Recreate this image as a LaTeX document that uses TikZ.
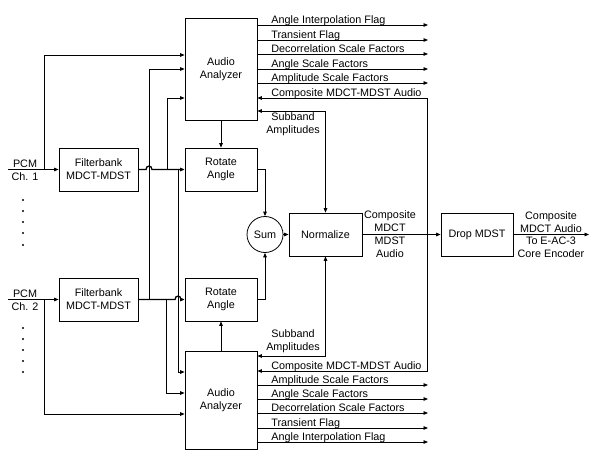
\documentclass[tikz,border=0pt]{standalone}
\usepackage{fontspec}
\setmainfont{Liberation Sans}
\usetikzlibrary{arrows.meta,calc}
\begin{document}
\begin{tikzpicture}[x=1pt,y=-1pt, line width=0.8pt,
  txt/.style={font=\fontsize{10.8}{13}\selectfont},
  box/.style={draw, rectangle, inner sep=0pt, align=center, txt},
  arr/.style={-{Triangle[length=4.5pt,width=3.6pt]}},
  barr/.style={{Triangle[length=4.5pt,width=3.6pt]}-{Triangle[length=4.5pt,width=3.6pt]}},
  lab/.style={anchor=base west, inner sep=0pt, txt},
  clab/.style={inner sep=0pt, align=center, txt},
  thick/.style={line width=1.3pt},
  dot/.style={circle, fill, inner sep=0pt, minimum size=2.4pt}]
\useasboundingbox (0,0) rectangle (599,457);

% boxes
\node[box, minimum width=72pt, minimum height=102pt] (A1) at (221,69) {Audio\\Analyzer};
\node[box, minimum width=79pt, minimum height=43pt] (F1) at (98.5,169.5) {Filterbank\\MDCT-MDST};
\node[box, minimum width=72pt, minimum height=43pt] (R1) at (221,169.5) {Rotate\\Angle};
\node[box, minimum width=79pt, minimum height=43pt] (F2) at (98.5,299.5) {Filterbank\\MDCT-MDST};
\node[box, minimum width=72pt, minimum height=43pt] (R2) at (221,299.5) {Rotate\\Angle};
\node[box, minimum width=72pt, minimum height=98pt] (A2) at (221,400) {Audio\\Analyzer};
\node[draw, circle, minimum size=36pt, inner sep=0pt, txt] (S) at (265,234.5) {Sum};
\node[box, minimum width=73pt, minimum height=43pt] (N) at (325.5,234.5) {Normalize};
\node[box, minimum width=72pt, minimum height=43pt] (D) at (477,234.5) {Drop MDST};

% inputs
\node[clab] (pcm1) at (25,170) {PCM\\Ch. 1};
\node[clab] (pcm2) at (25,300) {PCM\\Ch. 2};
\coordinate (in1) at (8,169.5);
\coordinate (in2) at (8,299.5);
\coordinate (j1a) at (44,169.5);
\coordinate (j2a) at (44,299.5);
\draw[arr] (in1) -- (F1.west);
\draw[arr] (in2) -- (F2.west);
\draw[arr] (j1a) |- (A1.west |- 0,55);
\draw[arr] (j2a) |- (A2.west |- 0,414);

% dots
\foreach \y [count=\i] in {200,211,222,233,245}{\node[dot] (da\i) at (23,\y) {};}
\foreach \y [count=\i] in {328,339,350,361,372}{\node[dot] (db\i) at (23,\y) {};}

% filterbank outputs with hops
\coordinate (j1b) at (167,169.5);
\coordinate (j1c) at (178,169.5);
\coordinate (j2b) at (149,299.5);
\coordinate (j2c) at (166,299.5);
\draw[arr,thick] (F1.east) -- (146,169.5) .. controls (146,165) and (152,165) .. (152,169.5) -- (R1.west);
\draw[arr,thick] (F2.east) -- (175,299.5) .. controls (175,295) and (181,295) .. (181,299.5) -- (R2.west);
\draw[arr] (j1b) |- (A1.west |- 0,98);
\draw[arr] (j1c) |- (A2.west |- 0,372);
\draw[arr] (j2b) |- (A1.west |- 0,69);
\draw[arr] (j2c) |- (A2.west |- 0,393);

% analyzer to rotate
\draw[arr] (A1.south) -- (R1.north);
\draw[arr] (A2.north) -- (R2.south);

% rotate to sum, sum to normalize
\draw[arr] (R1.east) -| (S.north);
\draw[arr] (R2.east) -| (S.south);
\draw[arr] (S.east) -- (N.west);

% normalize to drop mdst, feedback
\coordinate (jc) at (427,234.5);
\draw[arr] (N.east) -- (D.west);
\draw[arr] (jc) |- (A1.east |- 0,98);
\draw[arr] (jc) |- (A2.east |- 0,371);
\node[clab] (cmma) at (390,234.5) {Composite\\MDCT\\MDST\\Audio};

% output
\coordinate (out) at (589,234.5);
\draw[arr] (D.east) -- (out);
\node[clab, anchor=south] (ol1) at (551,233) {Composite\\MDCT Audio};
\node[clab, anchor=north] (ol2) at (551,236.5) {To E-AC-3\\Core Encoder};

% subband amplitudes
\draw[barr] (A1.east |- 0,111) -| (N.north);
\draw[barr] (A2.east |- 0,356) -| (N.south);
\node[clab] (sb1) at (293,124.5) {Subband\\Amplitudes};
\node[clab] (sb2) at (293,341.5) {Subband\\Amplitudes};

% top analyzer outputs
\foreach \y/\t [count=\i] in {25/Angle Interpolation Flag, 40/Transient Flag, 54/Decorrelation Scale Factors, 69/Angle Scale Factors, 83/Amplitude Scale Factors}{
  \coordinate (to\i) at (428,\y);
  \draw[arr] (A1.east |- 0,\y) -- (to\i);
  \node[lab] (tl\i) at (271,\y-1.8) {\t};
}
\node[lab] (tl6) at (271,96.2) {Composite MDCT-MDST Audio};

% bottom analyzer outputs
\node[lab] (bl6) at (271,369.2) {Composite MDCT-MDST Audio};
\foreach \y/\t [count=\i] in {385/Amplitude Scale Factors, 399/Angle Scale Factors, 413/Decorrelation Scale Factors, 428/Transient Flag, 442/Angle Interpolation Flag}{
  \coordinate (bo\i) at (428,\y);
  \draw[arr] (A2.east |- 0,\y) -- (bo\i);
  \node[lab] (bl\i) at (271,\y-1.8) {\t};
}
\end{tikzpicture}
\end{document}
